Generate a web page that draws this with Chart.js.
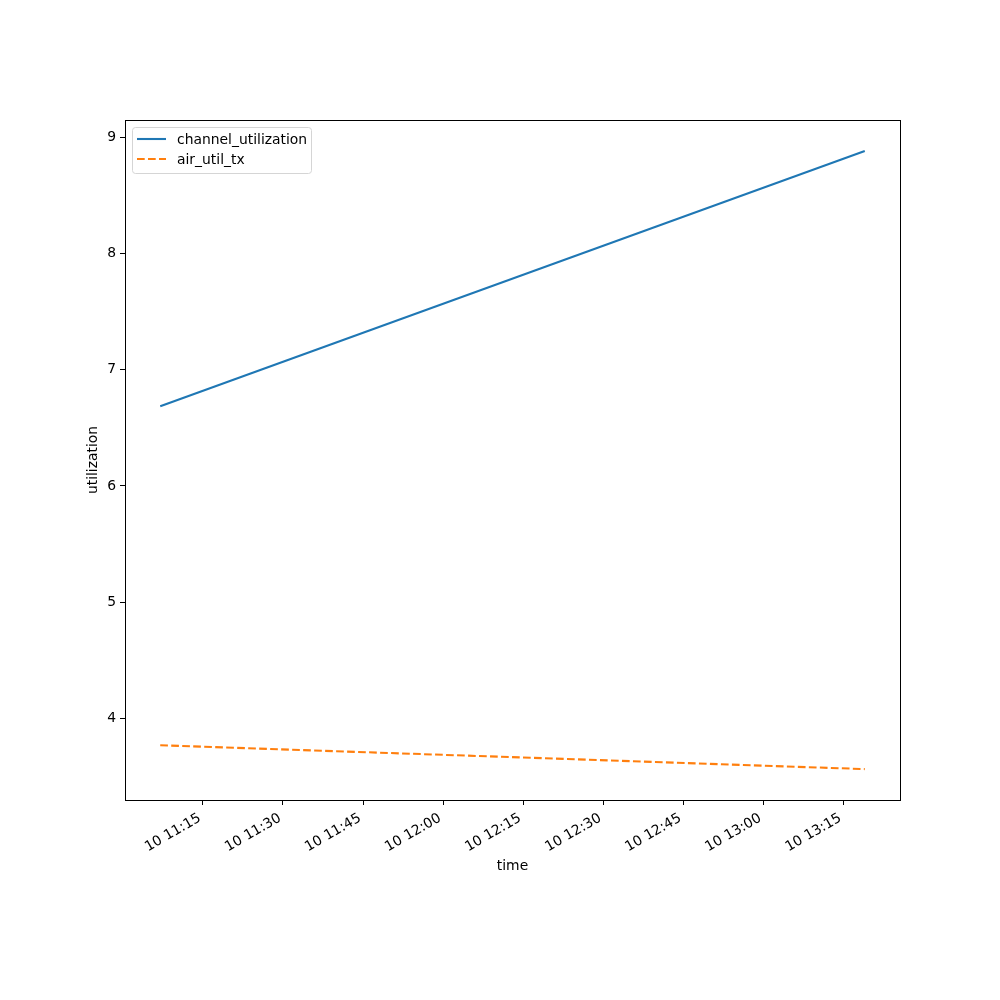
<!DOCTYPE html>
<html>
<head>
<meta charset="utf-8">
<script src="https://cdn.jsdelivr.net/npm/chart.js@4/dist/chart.umd.min.js"></script>
<style>
  html, body { margin: 0; padding: 0; background: #fff; }
  #c { display: block; }
</style>
</head>
<body>
<canvas id="c" width="1000" height="1000"></canvas>
<script>
// ---- data (minutes since midnight on day 10) ----
const times = [667, 799];                 // 11:07, 13:19
const channelUtilization = [6.685, 8.882];
const airUtilTx = [3.770, 3.565];
const seriesNames = ['channel_utilization', 'air_util_tx'];

const xTickValues = [675, 690, 705, 720, 735, 750, 765, 780, 795];
const xTickLabels = ['10 11:15', '10 11:30', '10 11:45', '10 12:00', '10 12:15',
                     '10 12:30', '10 12:45', '10 13:00', '10 13:15'];
const yTickValues = [4, 5, 6, 7, 8, 9];

// matplotlib-like 5% margins
function padRange(arr) {
  const mn = Math.min(...arr), mx = Math.max(...arr);
  const m = (mx - mn) * 0.05;
  return [mn - m, mx + m];
}
const [xMin, xMax] = padRange(times);
const [yMin, yMax] = padRange(channelUtilization.concat(airUtilTx));

const FONT = 'DejaVu Sans';
const FS = 13.9;
Chart.defaults.font.family = FONT;
Chart.defaults.font.size = FS;
Chart.defaults.color = '#000';

const frame = {
  id: 'frame',
  afterDatasetsDraw(chart) {
    const a = chart.chartArea, ctx = chart.ctx;
    ctx.save();
    ctx.strokeStyle = '#000';
    ctx.lineWidth = 1;
    ctx.strokeRect(Math.round(a.left) + 0.5, Math.round(a.top) + 0.5,
                   Math.round(a.right - a.left), Math.round(a.bottom - a.top));
    ctx.restore();
  }
};

const boxLegend = {
  id: 'boxLegend',
  afterDraw(chart) {
    const a = chart.chartArea, ctx = chart.ctx;
    const x0 = a.left + 7.5, y0 = a.top + 7.5, w = 179, h = 46, r = 3;
    ctx.save();
    ctx.beginPath();
    ctx.moveTo(x0 + r, y0);
    ctx.arcTo(x0 + w, y0, x0 + w, y0 + h, r);
    ctx.arcTo(x0 + w, y0 + h, x0, y0 + h, r);
    ctx.arcTo(x0, y0 + h, x0, y0, r);
    ctx.arcTo(x0, y0, x0 + w, y0, r);
    ctx.closePath();
    ctx.fillStyle = 'rgba(255,255,255,0.8)';
    ctx.fill();
    ctx.strokeStyle = '#d5d5d5';
    ctx.lineWidth = 1;
    ctx.stroke();
    ctx.font = FS + 'px "' + FONT + '"';
    ctx.textBaseline = 'middle';
    ctx.textAlign = 'left';
    chart.data.datasets.forEach((ds, i) => {
      const cy = a.top + 19 + i * 20;
      ctx.beginPath();
      ctx.setLineDash(ds.borderDash || []);
      ctx.strokeStyle = ds.borderColor;
      ctx.lineWidth = ds.borderWidth;
      ctx.moveTo(a.left + 12, cy);
      ctx.lineTo(a.left + 41, cy);
      ctx.stroke();
      ctx.setLineDash([]);
      ctx.fillStyle = '#000';
      ctx.fillText(ds.label, a.left + 52, cy + 1);
    });
    ctx.restore();
  }
};

new Chart(document.getElementById('c'), {
  type: 'line',
  data: {
    datasets: [
      {
        label: seriesNames[0],
        data: times.map((t, i) => ({ x: t, y: channelUtilization[i] })),
        borderColor: '#1f77b4',
        borderWidth: 2.1,
        pointRadius: 0,
        tension: 0,
        fill: false
      },
      {
        label: seriesNames[1],
        data: times.map((t, i) => ({ x: t, y: airUtilTx[i] })),
        borderColor: '#ff7f0e',
        borderWidth: 2.1,
        borderDash: [7.7, 3.3],
        pointRadius: 0,
        tension: 0,
        fill: false
      }
    ]
  },
  options: {
    responsive: false,
    animation: false,
    devicePixelRatio: 1,
    layout: { padding: { left: 85, top: 120, right: 100, bottom: 125 } },
    plugins: { legend: { display: false }, tooltip: { enabled: false } },
    scales: {
      x: {
        type: 'linear',
        min: xMin,
        max: xMax,
        afterBuildTicks: (s) => { s.ticks = xTickValues.map(v => ({ value: v })); },
        afterFit: (s) => { s.height = 75; },
        ticks: {
          autoSkip: false,
          minRotation: 30,
          maxRotation: 30,
          padding: 5,
          labelOffset: -3,
          color: '#000',
          font: { size: FS },
          callback: (v, i) => xTickLabels[i]
        },
        grid: { display: true, drawOnChartArea: false, drawTicks: true, tickLength: 5, tickColor: '#000', tickWidth: 1 },
        border: { display: true, color: '#000', width: 1 },
        title: { display: true, text: 'time', color: '#000', font: { size: FS }, padding: 0 }
      },
      y: {
        type: 'linear',
        min: yMin,
        max: yMax,
        afterBuildTicks: (s) => { s.ticks = yTickValues.map(v => ({ value: v })); },
        afterFit: (s) => { s.width = 40; },
        ticks: {
          padding: 4,
          color: '#000',
          font: { size: FS },
          callback: (v) => String(v)
        },
        grid: { display: true, drawOnChartArea: false, drawTicks: true, tickLength: 5, tickColor: '#000', tickWidth: 1 },
        border: { display: true, color: '#000', width: 1 },
        title: { display: true, text: 'utilization', color: '#000', font: { size: FS }, padding: 0 }
      }
    }
  },
  plugins: [frame, boxLegend]
});
</script>
</body>
</html>
